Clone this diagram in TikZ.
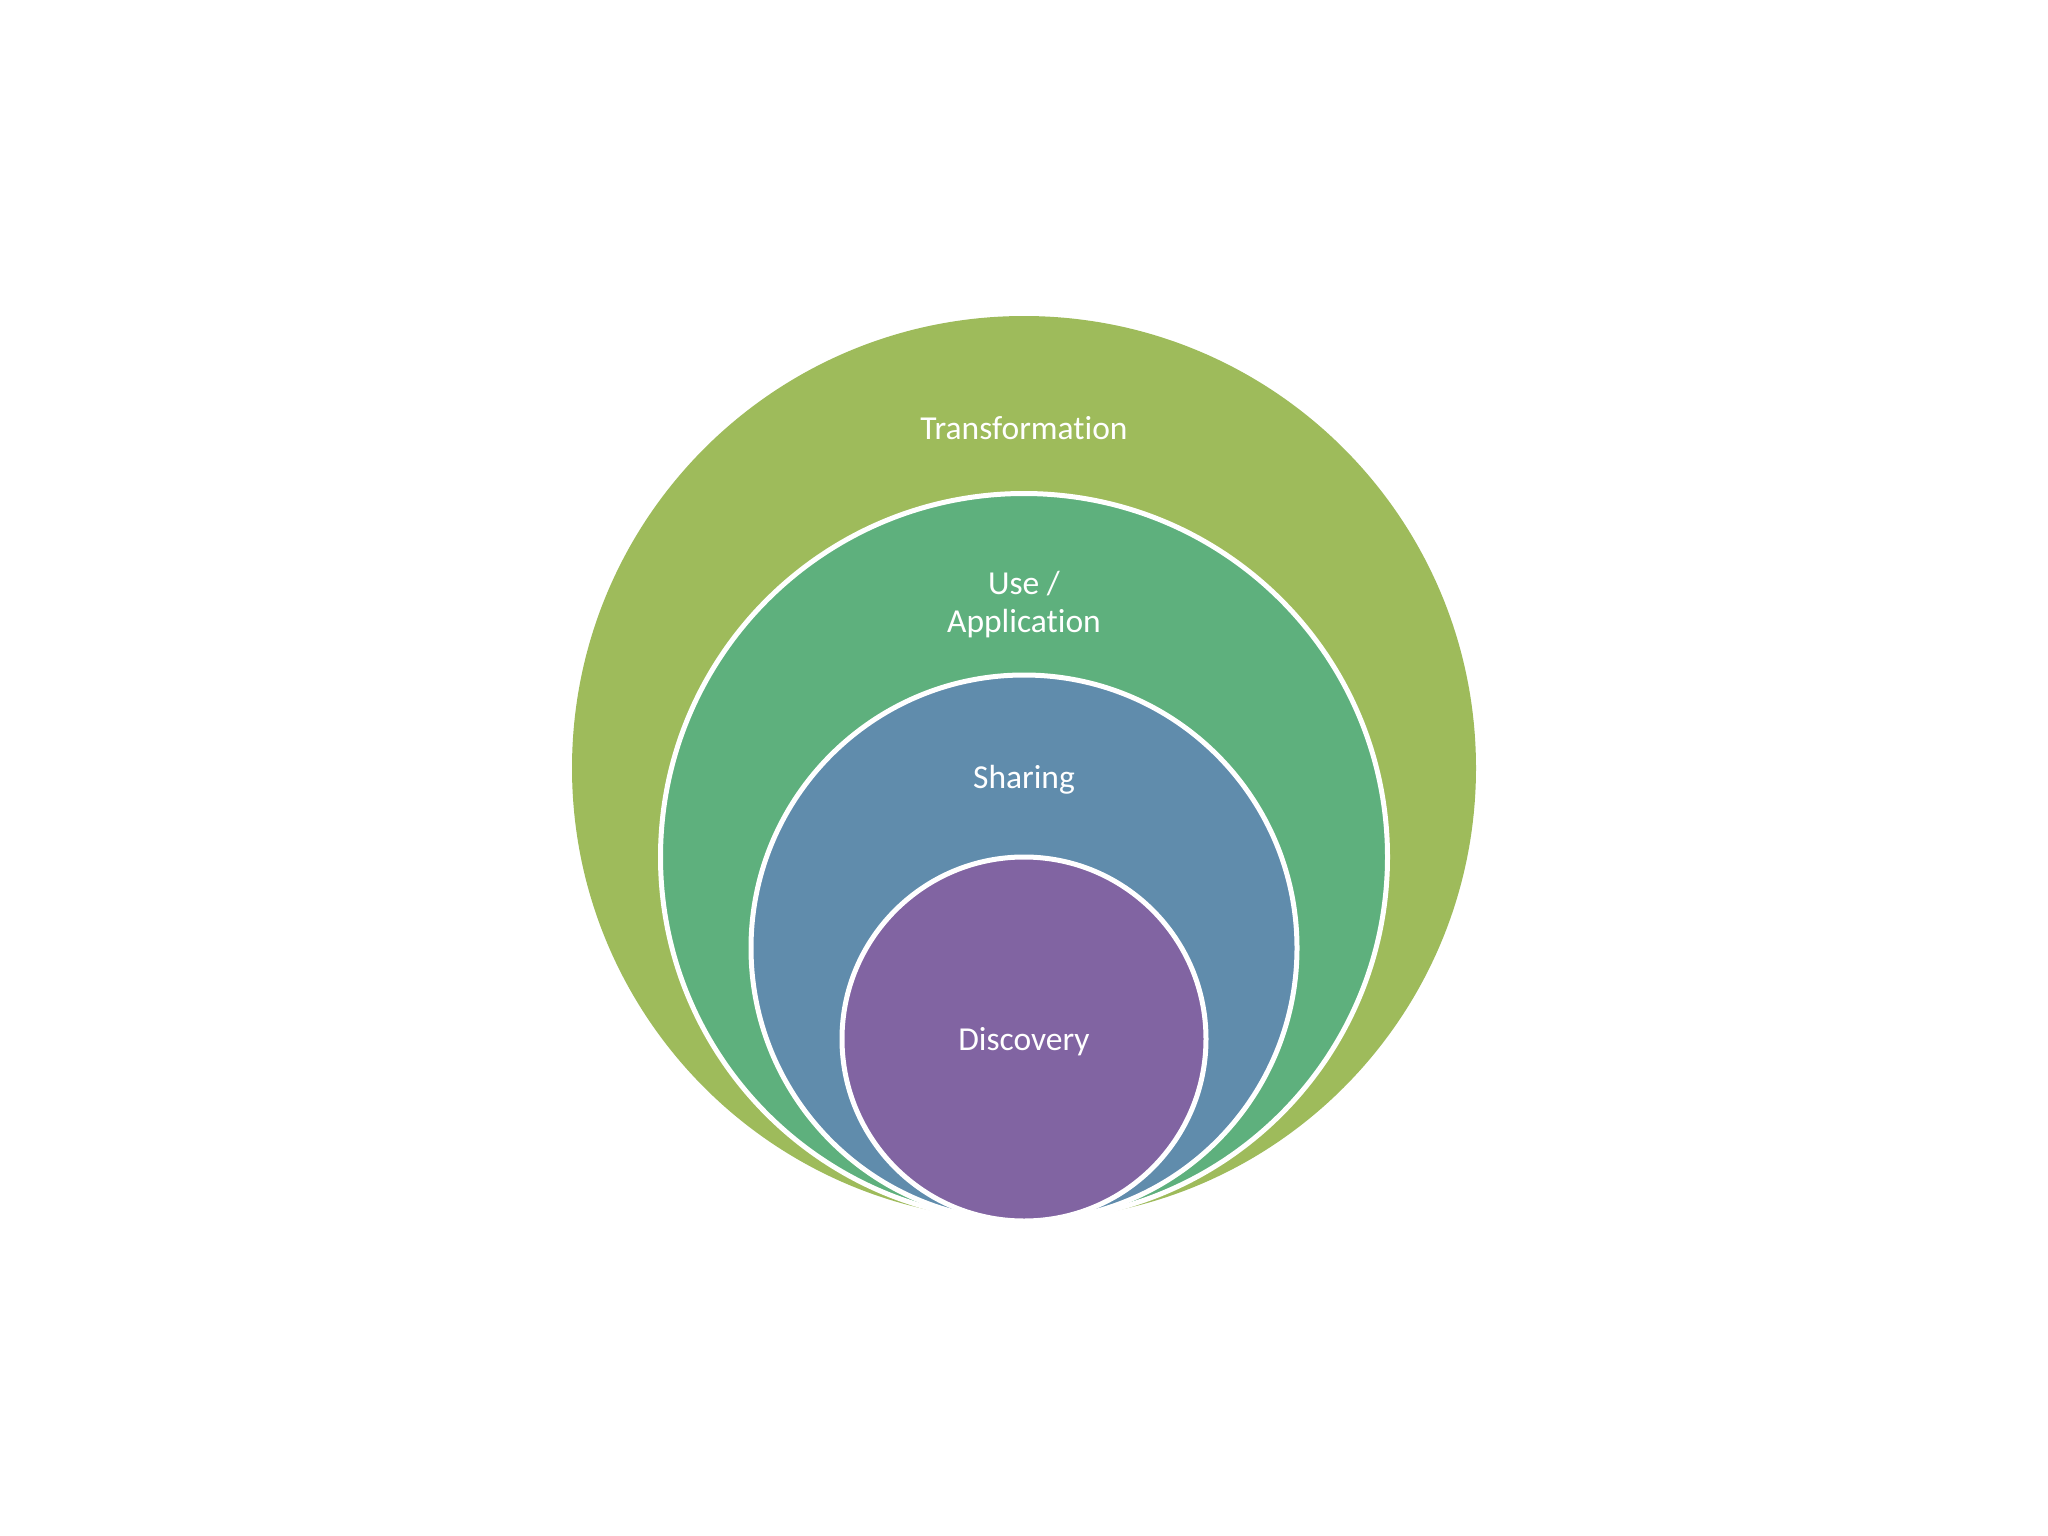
\documentclass[tikz,border=0pt]{standalone}
\usepackage{fontspec}
\setmainfont{Carlito}[Ligatures={NoCommon}]
\definecolor{cTrans}{RGB}{158,187,91}
\definecolor{cUse}{RGB}{94,176,125}
\definecolor{cShare}{RGB}{96,140,172}
\definecolor{cDisc}{RGB}{129,100,162}
\tikzset{
  ring/.style={circle, draw=white, line width=5pt, inner sep=0pt, outer sep=0pt},
  lbl/.style={text=white, font=\fontsize{33.5}{38}\selectfont, align=center, inner sep=0pt}
}
\begin{document}
\begin{tikzpicture}[x=1pt,y=-1pt]
\useasboundingbox (0,0) rectangle (2048,1536);
\fill[white] (0,0) rectangle (2048,1536);
\node[ring, draw=none, fill=cTrans, minimum size=904pt] (trans) at (1024,768) {};
\node[ring, fill=cUse, minimum size=727pt] (use) at (1024,857) {};
\node[ring, fill=cShare, minimum size=546pt] (share) at (1024,948) {};
\node[ring, fill=cDisc, minimum size=364pt] (disc) at (1024,1039) {};
\node[lbl] (ltrans) at (1024,428) {Transformation};
\node[lbl] (luse) at (1024,605) {Use /\\Application};
\node[lbl] (lshare) at (1024,780) {Sharing};
\node[lbl] (ldisc) at (1024,1042) {Discovery};
\end{tikzpicture}
\end{document}
